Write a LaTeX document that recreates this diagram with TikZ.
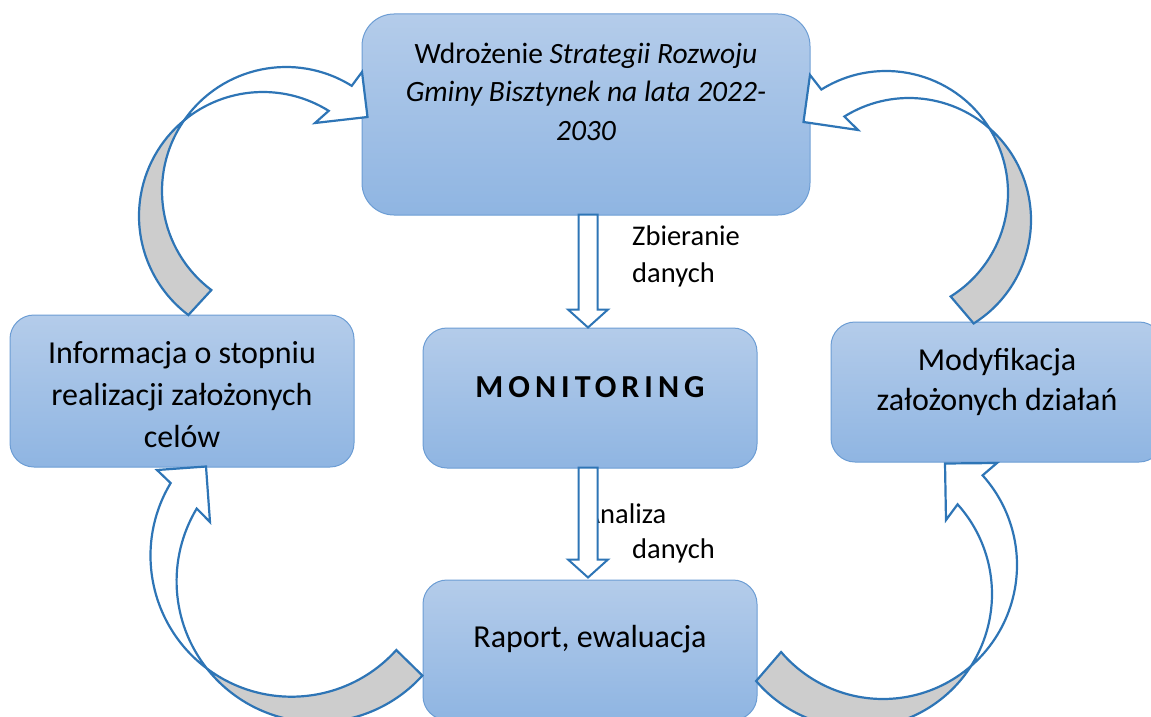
\documentclass[tikz,border=0pt]{standalone}
\usepackage{fontspec}
\setmainfont{Carlito}
\usetikzlibrary{calc}

\definecolor{boxtop}{RGB}{180,204,234}
\definecolor{boxbot}{RGB}{143,181,226}
\definecolor{boxline}{RGB}{108,157,212}
\definecolor{arrowline}{RGB}{46,117,182}
\definecolor{backgrey}{RGB}{205,205,205}

\tikzset{
    box/.style={draw=boxline, line width=1pt, top color=boxtop, bottom color=boxbot,
        rounded corners=24pt, align=center, inner sep=0pt, text height=20pt},
    front/.style={draw=arrowline, line width=2.2pt, fill=white},
    back/.style={draw=arrowline, line width=2.2pt, fill=backgrey},
    downarrow/.style={draw=arrowline, line width=2pt, fill=white},
    lbl/.style={align=left, inner sep=0pt, text height=20pt, text depth=6pt,
        font=\fontsize{28.5}{37}\selectfont}
}

\begin{document}
\begin{tikzpicture}[x=1pt, y=-1pt]
            \useasboundingbox (0,0) rectangle (1151,717);

            % Boxes
            \node[box, rounded corners=32pt, minimum width=448pt, minimum height=201pt,
                text height=60pt, text depth=9pt,
                font=\fontsize{29.5}{38.5}\selectfont] (impl) at (586,114.5)
                {Wdrożenie \textit{Strategii Rozwoju}\\\textit{Gminy Bisztynek na lata 2022-}\\\textit{2030}};
            \node[box, minimum width=344pt, minimum height=152pt, text height=120pt, text depth=8pt,
                font=\fontsize{32}{42}\selectfont] (info) at (182,391)
                {Informacja o stopniu\\realizacji założonych\\celów};
            \node[box, minimum width=334pt, minimum height=140pt, text depth=22pt,
                font=\fontsize{32}{40}\selectfont\bfseries] (mon) at (590,398)
                {\addfontfeature{LetterSpace=15.7}MONITORING};
            \node[box, minimum width=332pt, minimum height=140pt, text height=44pt, text depth=8pt,
                font=\fontsize{32}{40}\selectfont] (modyf) at (997,392)
                {Modyfikacja\\założonych działań};
            \node[box, minimum width=334pt, minimum height=140pt, text depth=26pt,
                font=\fontsize{32}{40}\selectfont] (rap) at (590,650) {Raport, ewaluacja};

            % Labels of the straight arrows
            \node[lbl, anchor=base west] (zbier) at (632,282) {Zbieranie\\danych};
            \node[lbl, anchor=base west, font=\fontsize{28.5}{35}\selectfont] (anal) at (583.5,558)
                {Analiza\\\hspace*{48.5pt}danych};

            % Straight block arrows
            \draw[downarrow] ($(mon.north)+(-2,0)$) -- ++(-20,-18) -- ++(10.5,0) -- ++(0,-95)
                -- ++(19,0) -- ++(0,95) -- ++(10.5,0) -- cycle;
            \draw[downarrow] ($(rap.north)+(-2,-2)$) -- ++(-20,-18) -- ++(10.5,0) -- ++(0,-92)
                -- ++(19,0) -- ++(0,92) -- ++(10.5,0) -- cycle;

            % Curved arrow, top left
            \coordinate (tlA) at (286,191);
            \coordinate (tlB) at (263,216);
            \filldraw[back] ($(tlA)+(-145.25:124)$) arc[start angle=-145.25, end angle=-233, radius=124]
                -- ($(tlB)+(-233:124)$) arc[start angle=-233, end angle=-129.5, radius=124] -- cycle;
            \filldraw[front] ($(tlA)+(-58:124)$) arc[start angle=-58, end angle=-145.25, radius=124]
                arc[start angle=-129.5, end angle=-58, radius=124]
                -- (315,123) -- ($(impl.west)+(6,2.5)$) -- (362,72) -- cycle;

            % Curved arrow, top right
            \coordinate (trA) at (886,193);
            \coordinate (trB) at (909,220);
            \filldraw[back] ($(trA)+(-32.07:122)$) arc[start angle=-32.07, end angle=58, radius=122]
                -- ($(trB)+(58:122)$) arc[start angle=58, end angle=-48.79, radius=122] -- cycle;
            \filldraw[front] ($(trA)+(-122:122)$) arc[start angle=-122, end angle=-32.07, radius=122]
                arc[start angle=-48.79, end angle=-122, radius=122]
                -- (858,130) -- ($(impl.east)+(-7,7.5)$) -- (810,75) -- cycle;

            % Curved arrow, bottom left
            \coordinate (blA) at (291.5,555.7);
            \coordinate (blB) at (317.6,581.2);
            \filldraw[back] ($(blA)+(126.9:141)$) arc[start angle=126.9, end angle=42, radius=141]
                -- ($(blB)+(42:141)$) arc[start angle=42, end angle=141.76, radius=141] -- cycle;
            \filldraw[front] ($(blA)+(211:141)$) arc[start angle=211, end angle=126.9, radius=141]
                arc[start angle=141.76, end angle=211, radius=141]
                -- (210,522) -- ($(info.south)+(24,-1)$) -- (157,470) -- cycle;

            % Curved arrow, bottom right
            \coordinate (brA) at (883,565);
            \coordinate (brB) at (858,594);
            \filldraw[back] ($(brA)+(48.99:134)$) arc[start angle=48.99, end angle=139.5, radius=134]
                -- ($(brB)+(139.5:134)$) arc[start angle=139.5, end angle=32.56, radius=134] -- cycle;
            \filldraw[front] ($(brA)+(-42:134)$) arc[start angle=-42, end angle=48.99, radius=134]
                arc[start angle=32.56, end angle=-42, radius=134]
                -- (946,520) -- ($(modyf.south)+(-52,1)$) -- (997,463) -- cycle;
        \end{tikzpicture}
\end{document}
